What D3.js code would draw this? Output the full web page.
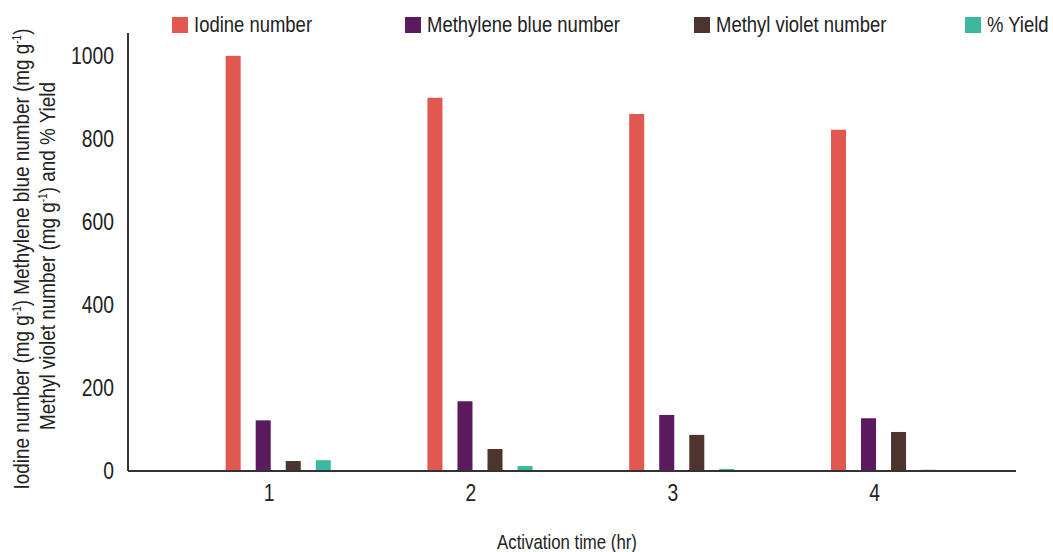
<!DOCTYPE html>
<html>
<head>
<meta charset="utf-8">
<script src="https://cdn.jsdelivr.net/npm/d3@7"></script>
<style>
    body { margin: 0; background: #fff; }
    svg text { font-family: "Liberation Sans", Arial, sans-serif; fill: #222; }
</style>
</head>
<body>
<svg id="chart" width="1053" height="552"></svg>
<script>
// data
const hours = ["1", "2", "3", "4"];
const seriesNames = ["Iodine number", "Methylene blue number", "Methyl violet number", "% Yield"];
const iodine = [1000, 899, 860, 822];
const methyleneBlue = [122, 168, 135, 127];
const methylViolet = [24, 53, 87, 94];
const yieldPct = [26, 12, 5, 3];
const yTicks = [0, 200, 400, 600, 800, 1000];

const colors = ["#e05850", "#5c1a5e", "#4e342e", "#3db8a0"];
const allSeries = [iodine, methyleneBlue, methylViolet, yieldPct];

// the reference uses a narrow face; squeeze Liberation Sans horizontally
const squeeze = 0.84;

function buildChart() {
    const svg = d3.select("#chart");
    const left = 128, right = 1016, top = 33, bottom = 471;

    const xs = d3.scaleBand().domain(hours).range([left, right])
        .paddingInner(0.479).paddingOuter(0.44).align(0.55);
    const xin = d3.scaleBand().domain(seriesNames).range([0, xs.bandwidth()])
        .paddingInner(0.5).paddingOuter(0);
    const ys = d3.scaleLinear().domain([0, 1055]).range([bottom, top]);

    // bars
    const groups = svg.append("g").selectAll("g").data(hours).enter().append("g")
        .attr("transform", d => `translate(${xs(d)},0)`);
    groups.selectAll("rect").data((d, i) => seriesNames.map((s, j) => ({ s: s, v: allSeries[j][i], c: colors[j] })))
        .enter().append("rect")
        .attr("x", d => xin(d.s))
        .attr("width", xin.bandwidth())
        .attr("y", d => ys(d.v))
        .attr("height", d => ys(0) - ys(d.v))
        .attr("fill", d => d.c);

    // y axis
    const yAxis = svg.append("g").attr("transform", `translate(${left},0)`)
        .call(d3.axisLeft(ys).tickValues(yTicks).tickFormat(d3.format("d")).tickSize(0).tickPadding(0));
    yAxis.select(".domain").attr("d", `M0,${top}V${bottom}`).attr("stroke", "#333").attr("stroke-width", 2);
    yAxis.selectAll("text").style("font-size", "23px").attr("x", 0)
        .attr("transform", `translate(-14,0) scale(${squeeze},1)`);

    // x axis
    const xAxis = svg.append("g").attr("transform", `translate(0,${bottom})`)
        .call(d3.axisBottom(xs).tickSize(0).tickPadding(14));
    xAxis.select(".domain").attr("d", `M${left},0H${right}`).attr("stroke", "#333").attr("stroke-width", 2);
    xAxis.selectAll("text").style("font-size", "23px")
        .attr("transform", `translate(-9,0) scale(${squeeze},1)`);

    svg.append("text").attr("transform", `translate(567,549) scale(${squeeze},1)`)
        .attr("text-anchor", "middle").style("font-size", "20px").text("Activation time (hr)");

    // y title, two lines with superscripts
    const line1 = [["Iodine number (mg g", false], ["-1", true], [") Methylene blue number (mg g", false], ["-1", true], [")", false]];
    const line2 = [["Methyl violet number (mg g", false], ["-1", true], [") and % Yield", false]];
    [[line1, 29, 259], [line2, 55, 256]].forEach(([parts, bx, cy]) => {
        const t = svg.append("text").attr("transform", `translate(${bx},${cy}) rotate(-90) scale(${squeeze},1)`)
            .attr("text-anchor", "middle").style("font-size", "22.5px");
        parts.forEach(([s, sup], i) => {
            const ts = t.append("tspan").text(s);
            if (sup) ts.attr("dy", -8).style("font-size", "12px");
            else ts.attr("dy", i > 0 ? 8 : 0);
        });
    });

    // legend
    const legendX = [172, 405, 694, 965];
    const leg = svg.append("g").selectAll("g").data(seriesNames).enter().append("g")
        .attr("transform", (d, i) => `translate(${legendX[i]},17)`);
    leg.append("rect").attr("width", 16).attr("height", 16).attr("fill", (d, i) => colors[i]);
    leg.append("text").attr("transform", `translate(22,15) scale(${squeeze},1)`)
        .style("font-size", "22px").text(d => d);
}

buildChart();
</script>
</body>
</html>
